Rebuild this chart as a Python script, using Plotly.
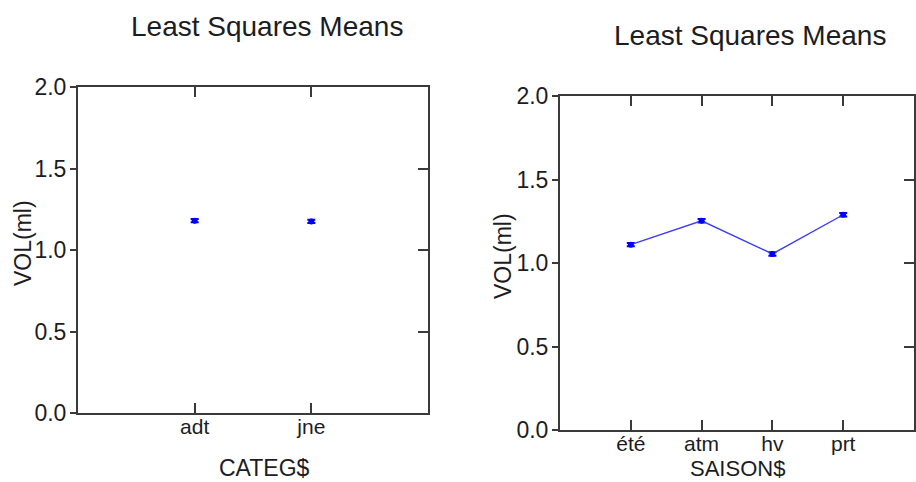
import plotly.graph_objects as go

# ---- data ----
categ = ["adt", "jne"]
categ_vol = [1.180, 1.175]
categ_se = [0.010, 0.010]

saison = ["été", "atm", "hv", "prt"]
saison_vol = [1.110, 1.253, 1.054, 1.289]
saison_se = [0.010, 0.010, 0.010, 0.010]

y_ticks = [0.0, 0.5, 1.0, 1.5, 2.0]
y_ticktext = ["0.0", "0.5", "1.0", "1.5", "2.0"]

title_text = "Least Squares Means"
ytitle = "VOL(ml)"

W, H = 916, 482
FONT = "Liberation Sans, Arial, sans-serif"
TXT = "#1c1c24"
AX = "#3a3a3a"
BLUE = "#0000f0"
LINE = "rgb(60,60,250)"

fig = go.Figure()

fig.add_trace(go.Scatter(
    x=categ, y=categ_vol, mode="markers",
    marker=dict(color=BLUE, size=6, symbol="circle"),
    error_y=dict(type="data", array=categ_se, visible=True, color=BLUE, thickness=2, width=4),
    xaxis="x", yaxis="y", showlegend=False, hoverinfo="x+y"))

fig.add_trace(go.Scatter(
    x=saison, y=saison_vol, mode="lines+markers",
    line=dict(color=LINE, width=1.4),
    marker=dict(color=BLUE, size=6, symbol="circle"),
    error_y=dict(type="data", array=saison_se, visible=True, color=BLUE, thickness=2, width=4),
    xaxis="x2", yaxis="y2", showlegend=False, hoverinfo="x+y"))

# geometry (pixels)
L1, R1, T1, B1 = 78, 428, 87, 413
L2, R2, T2, B2 = 560, 914, 96, 430

def px(x):
    return x / W

def py(y):
    return 1 - y / H

xtickfont = dict(family=FONT, size=21, color=TXT)
ytickfont = dict(family=FONT, size=23, color=TXT)

xcommon = dict(type="category", showline=True, linecolor=AX, linewidth=2, mirror="ticks",
               ticks="inside", ticklen=10, tickwidth=1.5, tickcolor=AX, automargin=False,
               showgrid=False, zeroline=False, tickfont=xtickfont, ticklabelstandoff=-6)
ycommon = dict(range=[0, 2], tickvals=y_ticks, ticktext=y_ticktext, showline=True,
               linecolor=AX, linewidth=2, mirror=True, ticks="outside", ticklen=6,
               tickwidth=1.5, tickcolor=AX, showgrid=False, zeroline=False, tickfont=ytickfont,
               automargin=False, ticklabelstandoff=-1)
yright = dict(range=[0, 2], tickvals=y_ticks, side="right", ticks="inside", ticklen=10,
              tickwidth=1.5, tickcolor=AX, showticklabels=False, showgrid=False,
              zeroline=False, showline=False, automargin=False)

fig.update_layout(
    width=W, height=H,
    margin=dict(l=0, r=0, t=0, b=0, pad=0),
    paper_bgcolor="white", plot_bgcolor="white",
    xaxis=dict(domain=[px(L1), px(R1)], anchor="y", range=[-1, 2], **xcommon),
    yaxis=dict(domain=[py(B1), py(T1)], anchor="x", **ycommon),
    yaxis3=dict(overlaying="y", anchor="x", **yright),
    xaxis2=dict(domain=[px(L2), px(R2)], anchor="y2", range=[-1, 4], **xcommon),
    yaxis2=dict(domain=[py(B2), py(T2)], anchor="x2", **ycommon),
    yaxis4=dict(overlaying="y2", anchor="x2", **yright),
)

# invisible traces so the overlay axes render
fig.add_trace(go.Scatter(x=[categ[0]], y=[None], xaxis="x", yaxis="y3", showlegend=False, hoverinfo="skip"))
fig.add_trace(go.Scatter(x=[saison[0]], y=[None], xaxis="x2", yaxis="y4", showlegend=False, hoverinfo="skip"))

ann = []
titlefont = dict(family=FONT, size=28, color=TXT)
labfont = dict(family=FONT, size=23, color=TXT)
ann.append(dict(text=title_text, x=px(267), y=py(26), xref="paper", yref="paper",
                xanchor="center", yanchor="middle", showarrow=False, font=titlefont))
ann.append(dict(text=title_text, x=px(750), y=py(36), xref="paper", yref="paper",
                xanchor="center", yanchor="middle", showarrow=False, font=titlefont))
ann.append(dict(text=ytitle, x=px(23), y=py(243), xref="paper", yref="paper", textangle=-90,
                xanchor="center", yanchor="middle", showarrow=False, font=labfont))
ann.append(dict(text=ytitle, x=px(503), y=py(256), xref="paper", yref="paper", textangle=-90,
                xanchor="center", yanchor="middle", showarrow=False, font=labfont))
ann.append(dict(text="CATEG$", x=px(264), y=py(468), xref="paper", yref="paper",
                xanchor="center", yanchor="middle", showarrow=False, font=labfont))
ann.append(dict(text="SAISON$", x=px(737), y=py(468), xref="paper", yref="paper",
                xanchor="center", yanchor="middle", showarrow=False,
                font=dict(family=FONT, size=22, color=TXT)))
fig.update_layout(annotations=ann)

fig.write_html("out.html")
